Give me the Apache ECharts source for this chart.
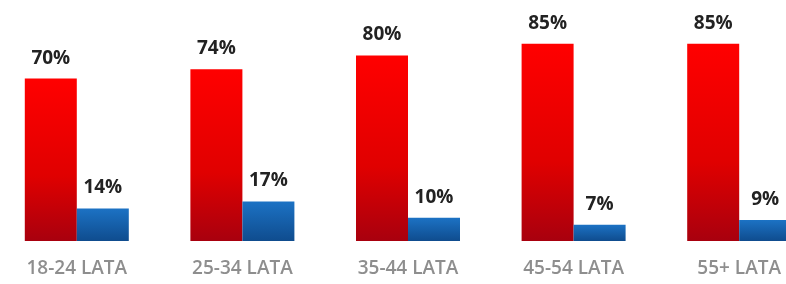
<!DOCTYPE html>
<html lang="pl">
<head>
    <meta charset="UTF-8">
    <title>index</title>
    <script src="https://cdn.jsdelivr.net/npm/echarts@6/dist/echarts.min.js"></script>
    <style>
        html, body { margin: 0; padding: 0; background: #fff; }
        #chart { width: 786px; height: 284px; }
    </style>
</head>
<body>
<div id="chart"></div>
<script>
    var categories = ['18-24 LATA', '25-34 LATA', '35-44 LATA', '45-54 LATA', '55+ LATA'];
    var redValues = [70, 74, 80, 85, 85];
    var blueValues = [14, 17, 10, 7, 9];

    var myChart = echarts.init(document.getElementById('chart'));

    var labelStyle = {
        show: true,
        position: 'top',
        distance: 11,
        formatter: '{c}%',
        fontFamily: 'Open Sans',
        fontWeight: 'bold',
        fontSize: 19,
        color: '#222'
    };

    var option = {
        animation: false,
        grid: {
            left: -6,
            width: 828,
            top: 9,
            bottom: 43,
            outerBoundsMode: 'none'
        },
        xAxis: {
            type: 'category',
            data: categories,
            axisLine: { show: false },
            axisTick: { show: false },
            axisLabel: {
                margin: 18,
                fontFamily: 'Open Sans',
                fontWeight: 600,
                fontSize: 19,
                color: '#8e8e8e'
            }
        },
        yAxis: {
            type: 'value',
            min: 0,
            max: 100,
            show: false,
            splitLine: { show: false }
        },
        series: [
            {
                name: 'red',
                type: 'bar',
                data: redValues,
                barWidth: 52,
                barGap: '0%',
                label: labelStyle,
                itemStyle: {
                    color: new echarts.graphic.LinearGradient(0, 0, 0, 1, [
                        { offset: 0, color: '#ff0000' },
                        { offset: 0.6, color: '#e00000' },
                        { offset: 1, color: '#a8000e' }
                    ])
                }
            },
            {
                name: 'blue',
                type: 'bar',
                data: blueValues,
                barWidth: 52,
                label: labelStyle,
                itemStyle: {
                    color: new echarts.graphic.LinearGradient(0, 0, 0, 1, [
                        { offset: 0, color: '#1c72c4' },
                        { offset: 1, color: '#0f4c8e' }
                    ])
                }
            }
        ]
    };

    myChart.setOption(option);
</script>
</body>
</html>
